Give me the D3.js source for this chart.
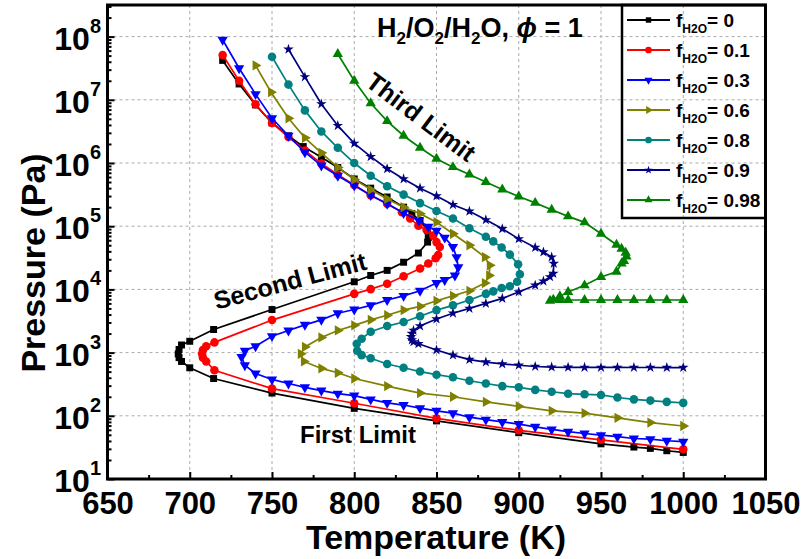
<!DOCTYPE html>
<html>
<head>
<meta charset="utf-8">
<script src="https://cdn.jsdelivr.net/npm/d3@7/dist/d3.min.js"></script>
<style>
  body { margin: 0; background: #fff; }
  text { font-family: "Liberation Sans", Arial, sans-serif; font-weight: bold; fill: #000; }
</style>
</head>
<body>
<div id="graph"></div>
<script>
// legend labels (f_H2O)
var fLabels = ["0", "0.1", "0.3", "0.6", "0.8", "0.9", "0.98"]

// temperature (K) and pressure (Pa)
var T_f0 = [720,730,740,750,760,769,780,790,800,810,820,830,835,840,844.6,845,844.6,839,830,820,810,800,750,714.5,700,695,693.5,693,693.5,695,700,714.5,750,800,850,900,950,970,980,990,1000]
var P_f0 = [4.2e7,1.78e7,8.3e6,4.3e6,2.7e6,1.82e6,1.23e6,8.5e5,5.6e5,4.0e5,2.9e5,2.0e5,1.58e5,1.23e5,8.5e4,6.6e4,5.6e4,3.76e4,2.69e4,2.0e4,1.66e4,1.32e4,4.8e3,2.32e3,1.51e3,1.32e3,1.12e3,955,832,724,575,389,229,131,83,54,36,32,30.5,28,26.3]

var T_f01 = [720,730,740,750,760,770,780,790,800,810,820,829,834,839,844,848,850,852,851,849.5,845,840,830,820,810,800,750,715,710,708,707.5,708,710,715,750,800,850,900,950,1000]
var P_f01 = [5.1e7,2.0e7,8.5e6,4.3e6,2.57e6,1.58e6,9.8e5,6.5e5,4.5e5,3.1e5,2.26e5,1.66e5,1.32e5,1.02e5,8.7e4,7.1e4,5.6e4,4.7e4,3.5e4,3.1e4,2.57e4,2.14e4,1.62e4,1.23e4,1.01e4,8.5e3,3.27e3,1.45e3,1.26e3,1.1e3,955,832,724,525,269,158,91,59,41.7,29.5]

var T_f03 = [720,730,740,750,760,770,780,790,800,810,820,830,839.3,845,850,855,860,862.2,863.2,861.2,855,850,840,830,820,810,800,790,780,770,760,750,740,733.5,731.5,733.5,740,750,760,770,780,790,800,810,820,830,840,850,860,870,880,890,900,910,920,930,940,950,960,970,980,990,1000]
var P_f03 = [8.9e7,3.16e7,1.23e7,5.1e6,2.7e6,1.48e6,9.1e5,6.3e5,4.4e5,3.1e5,2.26e5,1.62e5,1.23e5,9.8e4,8.5e4,6.6e4,4.7e4,3.24e4,2.24e4,1.66e4,1.41e4,1.26e4,9.5e3,7.9e3,6.8e3,5.6e3,4.8e3,4.2e3,3.3e3,2.75e3,2.24e3,1.82e3,1.26e3,1.07e3,851,631,468,376,324,282,251,224,209,182,160,148,132,120,110,95,87,80,74,67,61,56,52.5,49.5,46.8,43.7,42.7,40.3,38.9]

var T_f06 = [740,749.4,760,770,780,790,800,810,820,830,840,850,860,870,879.4,882.4,882,879.4,870,860,850,840,830,820,810,800,790,780,770,767.5,769.4,780,790,800,820,840,860,880,900,920,940,960,980,1000]
var P_f06 = [3.5e7,1.32e7,5.1e6,2.5e6,1.45e6,8.5e5,5.5e5,3.8e5,2.7e5,2.0e5,1.58e5,1.16e5,7.6e4,5.0e4,3.24e4,2.4e4,1.66e4,1.26e4,9.5e3,7.9e3,6.6e3,5.4e3,4.7e3,3.9e3,3.3e3,2.7e3,2.24e3,1.74e3,1.23e3,955,724,562,479,389,295,229,200,166,141,120,110,93,78,69]

var T_f08 = [750,760,770,780,790,800,810,820,830,840,850,860,870,880,884.5,889.6,894.6,899.6,900.7,899,894.6,889.6,884.5,880,870,860,850,840,830,820,810,804.5,801.5,801.8,804.5,810,820,830,840,850,860,870,880,890,900,910,920,930,940,950,960,970,980,990,1000]
var P_f08 = [4.8e7,1.74e7,6.8e6,3.16e6,1.74e6,1.0e6,6.3e5,4.3e5,3.16e5,2.32e5,1.74e5,1.32e5,9.3e4,6.8e4,5.75e4,4.6e4,3.55e4,2.5e4,1.74e4,1.32e4,1.12e4,1.05e4,9.3e3,8.5e3,6.8e3,5.6e3,4.7e3,3.76e3,3.05e3,2.63e3,2.14e3,1.66e3,1.38e3,1.07e3,912,813,661,575,501,447,407,359,324,295,282,257,240,224,219,214,195,182,174,166,160]

var T_f09 = [760,770,780,790,800,810,820,830,840,850,860,870,880,890,900,910,915,920,921.3,921,919,915,910,900,890,880,870,860,850,840,836,835,834.5,835,836,839,850,860,870,880,890,900,910,920,930,940,950,960,970,980,990,1000]
var P_f09 = [6.3e7,2.3e7,8.6e6,3.9e6,2.04e6,1.26e6,8.1e5,5.6e5,4.0e5,3.0e5,2.19e5,1.72e5,1.26e5,9.1e4,6.3e4,4.6e4,3.9e4,3.24e4,2.57e4,1.78e4,1.58e4,1.35e4,1.16e4,9.1e3,7.2e3,6.0e3,5.0e3,4.2e3,3.4e3,2.63e3,2.24e3,2.0e3,1.78e3,1.58e3,1.48e3,1.38e3,1.1e3,912,776,708,661,631,603,589,585,583,582,582,581,581,580,580]

var T_f098 = [790,800,810,820,830,840,850,860,870,880,890,900,910,920,930,940,950,959.4,962.5,965,965.5,964,962.5,959.4,950,940,930,925,921,919,925,930,940,950,960,970,980,990,1000]
var P_f098 = [5.3e7,2.0e7,8.8e6,4.6e6,2.7e6,1.74e6,1.17e6,8.6e5,6.6e5,5.0e5,3.8e5,2.95e5,2.34e5,1.82e5,1.43e5,1.15e5,7.6e4,5.1e4,4.4e4,3.8e4,3.3e4,2.8e4,2.57e4,1.9e4,1.57e4,1.16e4,9.1e3,7.8e3,6.9e3,6.6e3,6.8e3,6.8e3,6.8e3,6.8e3,6.8e3,6.8e3,6.8e3,6.8e3,6.8e3]

// tick values
var xTicks = [650,700,750,800,850,900,950,1000,1050]
var yExps = [1,2,3,4,5,6,7,8]

var series = [
  {T: T_f0,   P: P_f0,   color: "#000000", shape: "square"},
  {T: T_f01,  P: P_f01,  color: "#ff0000", shape: "circle"},
  {T: T_f03,  P: P_f03,  color: "#0000ff", shape: "down"},
  {T: T_f06,  P: P_f06,  color: "#808000", shape: "right"},
  {T: T_f08,  P: P_f08,  color: "#008080", shape: "circle"},
  {T: T_f09,  P: P_f09,  color: "#000080", shape: "star"},
  {T: T_f098, P: P_f098, color: "#008000", shape: "up"}
]

// plot box (window.top is reserved, so keep these in an object)
var box = {left: 107.5, right: 765.5, top: 5, bottom: 479}

var svg = d3.select("#graph")
  .append("svg")
  .attr("width", 806)
  .attr("height", 559)

var x = d3.scaleLinear().domain([650, 1050]).range([box.left, box.right])
var y = d3.scaleLog().domain([10, Math.pow(10, 8.5)]).range([box.bottom, box.top])

// dotted grid
svg.append("g")
  .selectAll("line")
  .data(xTicks.slice(1, -1))
  .enter().append("line")
  .attr("x1", function(d){ return x(d) }).attr("x2", function(d){ return x(d) })
  .attr("y1", box.top).attr("y2", box.bottom)
  .attr("stroke", "#aaa").attr("stroke-width", 1).attr("stroke-dasharray", "3,3")

svg.append("g")
  .selectAll("line")
  .data(yExps.slice(1))
  .enter().append("line")
  .attr("x1", box.left).attr("x2", box.right)
  .attr("y1", function(d){ return y(Math.pow(10, d)) }).attr("y2", function(d){ return y(Math.pow(10, d)) })
  .attr("stroke", "#aaa").attr("stroke-width", 1).attr("stroke-dasharray", "3,3")

// x axis, inward ticks
var minorX = d3.range(675, 1050, 50)
svg.append("g")
  .attr("transform", "translate(0," + box.bottom + ")")
  .call(d3.axisBottom(x).tickValues(minorX).tickSize(-4).tickFormat(""))
  .call(function(g){ g.select(".domain").remove() })
  .selectAll("line").attr("stroke-width", 2)

var xAxis = svg.append("g")
  .attr("transform", "translate(0," + box.bottom + ")")
  .call(d3.axisBottom(x).tickValues(xTicks).tickSize(-7).tickFormat(d3.format("d")))
xAxis.select(".domain").remove()
xAxis.selectAll("line").attr("stroke-width", 2)
xAxis.selectAll("text")
  .attr("y", 35).attr("dy", null)
  .attr("fill", "#000")
  .style("font-size", "31px").style("font-family", "Liberation Sans, Arial, sans-serif").style("font-weight", "bold")

// y axis, inward ticks
var minorY = []
for (var e = 1; e <= 8; e++) {
  for (var m = 2; m <= 9; m++) {
    if (m * Math.pow(10, e) < Math.pow(10, 8.5)) minorY.push(m * Math.pow(10, e))
  }
}
svg.append("g")
  .attr("transform", "translate(" + box.left + ",0)")
  .call(d3.axisLeft(y).tickValues(minorY).tickSize(-4).tickFormat(""))
  .call(function(g){ g.select(".domain").remove() })
  .selectAll("line").attr("stroke-width", 2)

svg.append("g")
  .attr("transform", "translate(" + box.left + ",0)")
  .call(d3.axisLeft(y).tickValues(yExps.map(function(d){ return Math.pow(10, d) })).tickSize(-7).tickFormat(""))
  .call(function(g){ g.select(".domain").remove() })
  .selectAll("line").attr("stroke-width", 2)

var yLab = svg.append("g")
  .selectAll("text")
  .data(yExps)
  .enter().append("text")
  .attr("x", 101)
  .attr("y", function(d){ return y(Math.pow(10, d)) + 13 })
  .attr("text-anchor", "end")
  .style("font-size", "32px")
yLab.append("tspan").text("10")
yLab.append("tspan").attr("dy", -17).style("font-size", "20px").text(function(d){ return d })

// frame
svg.append("rect")
  .attr("x", box.left).attr("y", box.top)
  .attr("width", box.right - box.left).attr("height", box.bottom - box.top)
  .attr("fill", "none").attr("stroke", "#000").attr("stroke-width", 3)

// marker shapes
function marker(sel, shape, size) {
  var type = d3.symbolTriangle, rot = 0, s = size
  if (shape == "square") { type = d3.symbolSquare; s = size * 1.05 }
  if (shape == "circle") { type = d3.symbolCircle; s = size * 1.25 }
  if (shape == "star") { type = d3.symbolStar; s = size * 0.75 }
  if (shape == "down") rot = 180
  if (shape == "right") rot = 90
  sel.attr("d", d3.symbol().type(type).size(s))
    .attr("transform", function(d){ return "translate(" + d[0] + "," + d[1] + ") rotate(" + rot + ")" })
}

var line = d3.line()
  .x(function(d){ return x(d[0]) })
  .y(function(d){ return y(d[1]) })

// curves
series.forEach(function(s) {
  var pts = s.T.map(function(t, i){ return [t, s.P[i]] })
  svg.append("path")
    .datum(pts)
    .attr("d", line)
    .attr("fill", "none")
    .attr("stroke", s.color)
    .attr("stroke-width", 1.7)
  svg.append("g")
    .selectAll("path")
    .data(pts.map(function(p){ return [x(p[0]), y(p[1])] }))
    .enter().append("path")
    .attr("fill", s.color)
    .call(marker, s.shape, 46)
})

// legend
var leg = svg.append("g")
leg.append("rect")
  .attr("x", 622).attr("y", box.top)
  .attr("width", box.right - 622).attr("height", 218 - box.top)
  .attr("fill", "none").attr("stroke", "#000").attr("stroke-width", 2.5)

series.forEach(function(s, i) {
  var ly = 20 + i * 30
  leg.append("line")
    .attr("x1", 627).attr("x2", 670)
    .attr("y1", ly).attr("y2", ly)
    .attr("stroke", s.color).attr("stroke-width", 2)
  leg.append("path")
    .datum([648.5, ly])
    .attr("fill", s.color)
    .call(marker, s.shape, 28)
  var t = leg.append("text")
    .attr("x", 676).attr("y", ly + 7)
    .style("font-size", "19px")
  t.append("tspan").text("f")
  t.append("tspan").attr("dy", 6).style("font-size", "12px").text("H2O")
  t.append("tspan").attr("dy", -6).text("= " + fLabels[i])
})

// title
var title = svg.append("text")
  .attr("x", 377).attr("y", 37)
  .style("font-size", "27px")
title.append("tspan").text("H")
title.append("tspan").attr("dy", 7).style("font-size", "17px").text("2")
title.append("tspan").attr("dy", -7).text("/O")
title.append("tspan").attr("dy", 7).style("font-size", "17px").text("2")
title.append("tspan").attr("dy", -7).text("/H")
title.append("tspan").attr("dy", 7).style("font-size", "17px").text("2")
title.append("tspan").attr("dy", -7).text("O, ")
title.append("tspan").style("font-style", "italic").text("\u03d5")
title.append("tspan").text(" = 1")

// limit annotations
svg.append("text")
  .attr("transform", "translate(421,117) rotate(37)")
  .attr("text-anchor", "middle").attr("dy", "0.35em")
  .style("font-size", "25px")
  .text("Third Limit")

svg.append("text")
  .attr("transform", "translate(290,281) rotate(-15)")
  .attr("text-anchor", "middle").attr("dy", "0.35em")
  .style("font-size", "25px")
  .text("Second Limit")

svg.append("text")
  .attr("x", 300).attr("y", 443)
  .style("font-size", "24px")
  .text("First Limit")

// axis titles
svg.append("text")
  .attr("x", 436).attr("y", 549)
  .attr("text-anchor", "middle")
  .style("font-size", "34px")
  .text("Temperature (K)")

svg.append("text")
  .attr("transform", "translate(45,263) rotate(-90)")
  .attr("text-anchor", "middle")
  .style("font-size", "34px")
  .text("Pressure (Pa)")
</script>
</body>
</html>
